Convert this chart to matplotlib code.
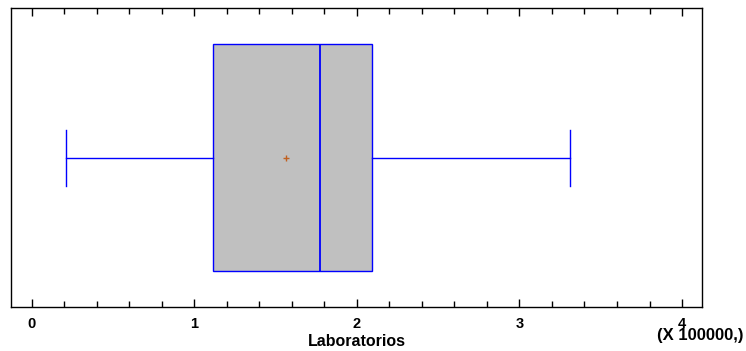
import matplotlib
matplotlib.use("Agg")
import matplotlib.pyplot as plt
from matplotlib.ticker import MultipleLocator

# ── Datos (valores en unidades de 100000) ─────────────────────────────────────
stat_names  = ["whislo", "q1", "med", "q3", "whishi", "mean"]
stat_values = [0.212, 1.116, 1.774, 2.094, 3.311, 1.565]
tick_vals   = [0, 1, 2, 3, 4]
tick_labels = ["0", "1", "2", "3", "4"]
xlabel      = "Laboratorios"
scale_note  = "(X 100000,)"

plt.rcParams["font.family"] = ["Liberation Sans", "DejaVu Sans"]

fig = plt.figure(figsize=(7.46, 3.51), dpi=100)
ax = fig.add_axes([0.0153, 0.125, 0.926, 0.852])

stats = dict(zip(stat_names, stat_values))
stats["fliers"] = []
blue = "#0000FF"
ax.bxp([stats], positions=[0.5], widths=0.76, capwidths=0.187, vert=False,
       patch_artist=True, showmeans=True, showfliers=False,
       boxprops=dict(facecolor="#C0C0C0", edgecolor=blue, linewidth=1.0),
       whiskerprops=dict(color=blue, linewidth=1.0),
       capprops=dict(color=blue, linewidth=1.0),
       medianprops=dict(color=blue, linewidth=1.3),
       meanprops=dict(marker="+", markeredgecolor="#C06020", markersize=5,
                      markeredgewidth=1.0))

ax.set_xlim(-0.124, 4.124)
ax.set_ylim(0, 1)
ax.set_yticks([])
ax.set_xticks(tick_vals)
ax.set_xticklabels(tick_labels, fontsize=10.5, fontweight="bold")
ax.xaxis.set_minor_locator(MultipleLocator(0.2))
ax.tick_params(axis="x", which="both", direction="in", top=True, bottom=True,
               pad=7, width=1)
ax.tick_params(axis="x", which="major", length=6)
ax.tick_params(axis="x", which="minor", length=4)
for s in ax.spines.values():
    s.set_linewidth(1.0)

ax.set_xlabel(xlabel, fontsize=11.5, fontweight="bold")
ax.xaxis.set_label_coords(0.5, -0.091)
fig.text(0.996, 0.043, scale_note, ha="right", va="center",
         fontsize=12, fontweight="bold")

fig.savefig("out.png", dpi=100)
